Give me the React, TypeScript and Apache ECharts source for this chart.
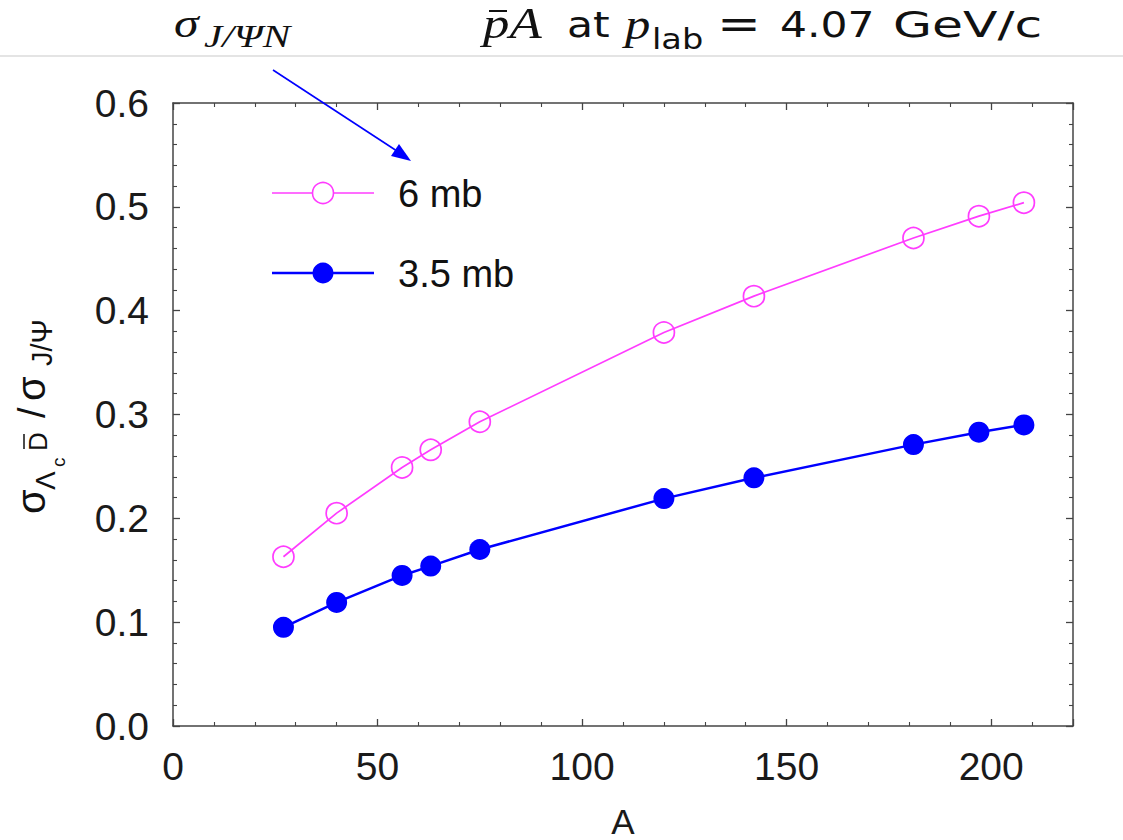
import React, { useEffect, useRef } from "react";
import * as echarts from "echarts";

// ---- data ----
const massNumbers = [27, 40, 56, 63, 75, 120, 142, 181, 197, 208];
const ratio6mb = [0.163, 0.205, 0.249, 0.266, 0.293, 0.379, 0.414, 0.47, 0.491, 0.504];
const ratio35mb = [0.095, 0.119, 0.145, 0.154, 0.17, 0.219, 0.239, 0.271, 0.283, 0.29];
const seriesNames = ["6 mb", "3.5 mb"];
const xTicks = { min: 0, max: 220, interval: 50 };
const yTicks = { min: 0, max: 0.6, interval: 0.1 };

const PINK = "#ff3cff";
const BLUE = "#0000ff";
const AXIS = "#444444";
const SANS = "'Liberation Sans', Arial, Helvetica, sans-serif";
const HEAD = "'DejaVu Sans', sans-serif";
const SERIF = "'Liberation Serif', 'Times New Roman', serif";

function txt(text: string, x: number, baseline: number, size: number, family: string, opts: any = {}) {
  return {
    type: "text",
    x,
    y: baseline - 0.35 * size,
    scaleX: opts.scaleX ?? 1,
    style: {
      text,
      font: `${opts.italic ? "italic " : ""}${size}px ${family}`,
      fill: opts.fill ?? "#111",
      textAlign: "left",
      textVerticalAlign: "middle",
    },
    z: 100,
  };
}

function rtxt(text: string, startY: number, baselineX: number, size: number, family: string) {
  // rotated group (rotation = PI/2 about 0,0): screen = (v, -u)
  return {
    type: "text",
    x: -startY,
    y: baselineX - 0.35 * size,
    style: {
      text,
      font: `${size}px ${family}`,
      fill: "#111",
      textAlign: "left",
      textVerticalAlign: "middle",
    },
  };
}

export default function App() {
  const ref = useRef<HTMLDivElement>(null);
  useEffect(() => {
    if (!ref.current) return;
    const chart = echarts.init(ref.current, null, { renderer: "svg" });

    const hs = 1.18;
    const header: any[] = [
      txt("σ", 174, 38, 40, SERIF, { italic: true, scaleX: 1.25 }),
      txt("J/ΨN", 204, 48, 31, SERIF, { italic: true, scaleX: 1.33 }),
      txt("pA", 483, 39, 44, SERIF, { italic: true, scaleX: 1.2 }),
      { type: "line", shape: { x1: 489, y1: 11, x2: 507, y2: 11 }, style: { stroke: "#111", lineWidth: 2 }, z: 100 },
      txt("at", 567, 37, 36, HEAD, { scaleX: hs }),
      txt("p", 625, 40, 44, SERIF, { italic: true, scaleX: 1.15 }),
      txt("lab", 652, 49, 28, HEAD, { scaleX: 1.2 }),
      txt("=", 717, 38, 42, HEAD, { scaleX: 1.25 }),
      txt("4.07", 780, 37, 36, HEAD, { scaleX: hs }),
      txt("GeV/c", 893, 37, 36, HEAD, { scaleX: 1.4 }),
      { type: "line", shape: { x1: 0, y1: 56, x2: 1123, y2: 56 }, style: { stroke: "#e4e4e4", lineWidth: 2 }, z: 100 },
      { type: "line", shape: { x1: 273, y1: 70, x2: 400, y2: 153 }, style: { stroke: BLUE, lineWidth: 1.6 }, z: 100 },
      { type: "polygon", shape: { points: [[411, 161], [391, 156], [399, 144]] }, style: { fill: BLUE }, z: 100 },
    ];

    const legend: any[] = [
      { type: "line", shape: { x1: 272, y1: 193, x2: 374, y2: 193 }, style: { stroke: PINK, lineWidth: 1.6 }, z: 100 },
      { type: "circle", shape: { cx: 323, cy: 193, r: 10.5 }, style: { fill: "#fff", stroke: PINK, lineWidth: 1.6 }, z: 101 },
      txt(seriesNames[0], 398, 207, 38, SANS),
      { type: "line", shape: { x1: 272, y1: 273, x2: 374, y2: 273 }, style: { stroke: BLUE, lineWidth: 2.5 }, z: 100 },
      { type: "circle", shape: { cx: 323, cy: 273, r: 10.5 }, style: { fill: BLUE }, z: 101 },
      txt(seriesNames[1], 398, 287, 38, SANS),
    ];

    const yLabel = {
      type: "group",
      x: 0,
      y: 0,
      rotation: Math.PI / 2,
      z: 100,
      children: [
        rtxt("σ", 514, 45, 40, SANS),
        rtxt("Λ", 490, 55, 28, SANS),
        rtxt("c", 467, 65, 19, SANS),
        rtxt("D", 451, 47, 26, SANS),
        { type: "line", shape: { x1: -449, y1: 24, x2: -434, y2: 24 }, style: { stroke: "#111", lineWidth: 1.5 } },
        rtxt("/", 418, 45, 38, SANS),
        rtxt("σ", 401, 45, 40, SANS),
        rtxt("J/Ψ", 366, 52, 29, SANS),
      ],
    };

    const axisCommon = {
      type: "value",
      splitLine: { show: false },
      axisLine: { show: true, onZero: false, lineStyle: { color: AXIS, width: 1.5 } },
      axisTick: { show: true, inside: true, length: 7, lineStyle: { color: AXIS, width: 1.3 } },
      minorTick: { show: true, splitNumber: 5, length: 4, lineStyle: { color: AXIS, width: 1.1 } },
      minorSplitLine: { show: false },
    };

    chart.setOption({
      animation: false,
      backgroundColor: "#ffffff",
      grid: { left: 173, top: 103, right: 50, bottom: 114, containLabel: false, outerBoundsMode: "none" },
      xAxis: [
        {
          ...axisCommon,
          position: "bottom",
          min: xTicks.min,
          max: xTicks.max,
          interval: xTicks.interval,
          axisLabel: {
            fontSize: 39,
            fontFamily: SANS,
            color: "#1a1a1a",
            margin: 21,
            showMaxLabel: false,
            formatter: (v: number) => String(Math.round(v)),
          },
          name: "A",
          nameLocation: "middle",
          nameGap: 78,
          nameTextStyle: { fontSize: 35, fontFamily: SANS, color: "#1a1a1a" },
        },
        {
          ...axisCommon,
          position: "top",
          min: xTicks.min,
          max: xTicks.max,
          interval: xTicks.interval,
          axisLabel: { show: false },
        },
      ],
      yAxis: [
        {
          ...axisCommon,
          position: "left",
          min: yTicks.min,
          max: yTicks.max,
          interval: yTicks.interval,
          axisLabel: {
            fontSize: 39,
            fontFamily: SANS,
            color: "#1a1a1a",
            margin: 24,
            formatter: (v: number) => v.toFixed(1),
          },
        },
        {
          ...axisCommon,
          position: "right",
          min: yTicks.min,
          max: yTicks.max,
          interval: yTicks.interval,
          axisLabel: { show: false },
        },
      ],
      series: [
        {
          name: seriesNames[0],
          type: "line",
          data: massNumbers.map((a, i) => [a, ratio6mb[i]]),
          symbol: "circle",
          symbolSize: 21,
          lineStyle: { color: PINK, width: 1.7 },
          itemStyle: { color: "rgba(255,255,255,0)", borderColor: PINK, borderWidth: 1.7 },
          z: 3,
        },
        {
          name: seriesNames[1],
          type: "line",
          data: massNumbers.map((a, i) => [a, ratio35mb[i]]),
          symbol: "circle",
          symbolSize: 21,
          lineStyle: { color: BLUE, width: 2.5 },
          itemStyle: { color: BLUE, borderColor: BLUE, borderWidth: 0 },
          z: 3,
        },
      ],
      graphic: [...header, ...legend, yLabel],
    });
    return () => chart.dispose();
  }, []);

  return (
    <div
      ref={ref}
      style={{ position: "absolute", left: 0, top: 0, width: 1123, height: 840, background: "#fff" }}
    />
  );
}
